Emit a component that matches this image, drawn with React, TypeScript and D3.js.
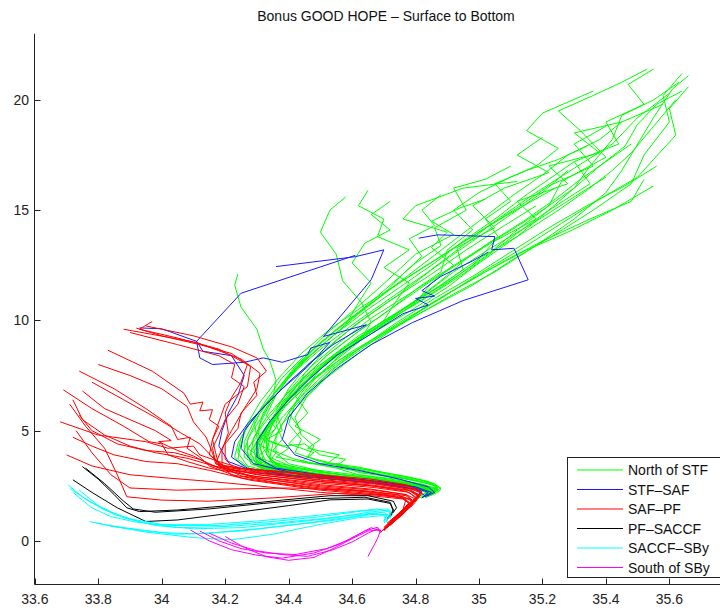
import React from "react";
import * as d3 from "d3";

type P = [number, number];

const chartTitle = "Bonus GOOD HOPE – Surface to Bottom";
const xTicks = [33.6, 33.8, 34, 34.2, 34.4, 34.6, 34.8, 35, 35.2, 35.4, 35.6];
const xTickLabels = ["33.6", "33.8", "34", "34.2", "34.4", "34.6", "34.8", "35", "35.2", "35.4", "35.6"];
const yTicks = [0, 5, 10, 15, 20];
const yTickLabels = ["0", "5", "10", "15", "20"];
const groupNames = ["North of STF", "STF–SAF", "SAF–PF", "PF–SACCF", "SACCF–SBy", "South of SBy"];
const groupColors = ["#00ff00", "#1a1aff", "#ff0000", "#000000", "#00ffff", "#ff00ff"];

// North of STF (salinity, temperature)
const northSTF: P[][] = [
  [[35.66,21.1],[35.61,20.5],[35.55,19.2],[35.50,18.0],[35.45,16.8],[35.40,15.8],[35.30,14.6],[35.18,13.4],[35.05,12.2],[34.92,11.2],[34.80,10.2],[34.68,9.2],[34.56,8.2],[34.46,7.1],[34.38,6.0],[34.33,5.0],[34.31,4.2],[34.33,3.5],[34.42,3.1],[34.58,2.8],[34.72,2.6],[34.81,2.4],[34.85,2.2],[34.82,2.0]],
  [[35.64,21.2],[35.58,20.2],[35.60,19.0],[35.52,17.5],[35.48,16.2],[35.36,15.0],[35.24,13.9],[35.10,12.7],[34.98,11.6],[34.85,10.6],[34.72,9.6],[34.60,8.6],[34.49,7.5],[34.40,6.4],[34.34,5.3],[34.30,4.4],[34.31,3.6],[34.38,3.2],[34.52,2.9],[34.67,2.7],[34.78,2.5],[34.84,2.3],[34.83,2.05],[34.80,1.9]],
  [[35.63,20.8],[35.55,20.0],[35.45,19.3],[35.42,18.2],[35.35,17.0],[35.30,16.0],[35.22,15.0],[35.12,13.8],[35.00,12.6],[34.90,11.5],[34.78,10.4],[34.65,9.3],[34.53,8.2],[34.44,7.0],[34.37,5.9],[34.32,4.9],[34.29,4.0],[34.32,3.4],[34.45,3.0],[34.62,2.75],[34.76,2.55],[34.83,2.35],[34.84,2.1]],
  [[35.55,21.4],[35.47,20.7],[35.52,19.8],[35.40,19.0],[35.44,18.0],[35.30,17.2],[35.35,16.2],[35.20,14.8],[35.06,13.3],[34.95,12.1],[34.82,10.9],[34.70,9.9],[34.58,8.8],[34.47,7.7],[34.39,6.6],[34.33,5.6],[34.29,4.7],[34.28,3.9],[34.33,3.3],[34.50,2.95],[34.66,2.7],[34.79,2.45],[34.84,2.25],[34.81,2.0]],
  [[35.55,16.1],[35.42,15.0],[35.28,14.0],[35.15,13.2],[35.02,12.2],[34.90,11.2],[34.79,10.2],[34.67,9.1],[34.56,8.0],[34.47,6.9],[34.40,5.8],[34.36,4.8],[34.36,4.0],[34.40,3.5],[34.52,3.1],[34.66,2.85],[34.78,2.6],[34.85,2.4],[34.86,2.15],[34.83,1.95]],
  [[35.52,16.4],[35.48,15.4],[35.35,14.6],[35.20,13.6],[35.08,12.7],[34.96,11.7],[34.84,10.7],[34.73,9.6],[34.62,8.5],[34.52,7.4],[34.44,6.3],[34.38,5.3],[34.35,4.4],[34.34,3.7],[34.40,3.25],[34.55,2.95],[34.70,2.7],[34.81,2.5],[34.86,2.3],[34.84,2.05]],
  [[35.58,19.8],[35.45,19.0],[35.30,18.5],[35.38,17.6],[35.22,17.0],[35.28,16.2],[35.12,15.4],[35.18,14.6],[35.05,13.6],[34.98,12.5],[34.87,11.4],[34.75,10.3],[34.63,9.2],[34.52,8.1],[34.43,6.9],[34.36,5.8],[34.31,4.8],[34.28,4.0],[34.30,3.4],[34.40,3.1],[34.56,2.85],[34.72,2.65],[34.82,2.4],[34.85,2.2],[34.83,2.0]],
  [[35.34,17.9],[35.25,17.3],[35.15,16.8],[35.05,16.2],[35.10,15.4],[35.02,14.6],[35.06,13.8],[34.96,12.8],[34.88,11.8],[34.78,10.7],[34.66,9.6],[34.55,8.5],[34.46,7.4],[34.39,6.3],[34.34,5.3],[34.31,4.5],[34.30,3.8],[34.35,3.3],[34.48,3.0],[34.64,2.75],[34.77,2.55],[34.84,2.3],[34.82,2.05]],
  [[35.12,16.3],[34.95,16.0],[34.80,15.2],[34.76,14.6],[34.90,14.0],[34.85,13.3],[34.92,12.5],[34.85,11.7],[34.80,10.8],[34.70,9.8],[34.58,8.8],[34.49,7.7],[34.41,6.6],[34.36,5.6],[34.33,4.7],[34.33,3.9],[34.37,3.4],[34.50,3.0],[34.66,2.78],[34.79,2.52],[34.85,2.3],[34.83,2.05]],
  [[34.58,15.6],[34.53,15.0],[34.50,14.0],[34.55,13.0],[34.57,11.8],[34.63,10.8],[34.66,9.9],[34.62,9.0],[34.54,8.1],[34.46,7.1],[34.39,6.1],[34.34,5.1],[34.31,4.3],[34.32,3.6],[34.40,3.2],[34.55,2.9],[34.70,2.7],[34.81,2.45],[34.85,2.2]],
  [[34.65,15.9],[34.62,15.2],[34.70,14.6],[34.68,13.8],[34.78,13.2],[34.70,12.4],[34.78,11.7],[34.74,10.9],[34.70,10.0],[34.60,9.0],[34.51,8.0],[34.43,6.9],[34.37,5.9],[34.33,5.0],[34.32,4.2],[34.35,3.5],[34.45,3.1],[34.60,2.85],[34.75,2.6],[34.83,2.35],[34.84,2.1]],
  [[34.24,12.1],[34.23,11.6],[34.25,10.6],[34.30,9.6],[34.32,8.7],[34.34,8.2],[34.36,7.3],[34.35,6.4],[34.31,5.5],[34.27,4.6],[34.27,3.8],[34.33,3.3],[34.47,3.0],[34.63,2.8],[34.76,2.6],[34.83,2.4],[34.85,2.2],[34.82,1.95]],
  [[35.20,18.3],[35.12,17.5],[35.22,16.7],[35.08,16.0],[34.98,15.2],[35.05,14.2],[34.93,13.3],[34.95,12.3],[34.85,11.3],[34.74,10.3],[34.62,9.3],[34.52,8.2],[34.43,7.1],[34.37,6.0],[34.32,5.0],[34.29,4.2],[34.30,3.5],[34.38,3.15],[34.53,2.9],[34.69,2.68],[34.80,2.45],[34.84,2.25]],
  [[35.53,21.4],[35.45,20.8],[35.36,20.2],[35.25,19.5],[35.32,18.6],[35.40,17.4],[35.26,16.3],[35.22,15.2],[35.12,14.1],[35.02,12.9],[34.92,11.9],[34.80,10.9],[34.68,9.8],[34.57,8.7],[34.48,7.6],[34.40,6.5],[34.35,5.4],[34.33,4.5],[34.34,3.8],[34.42,3.3],[34.57,3.0],[34.72,2.75],[34.82,2.5],[34.86,2.3],[34.84,2.05]],
  [[35.40,16.5],[35.30,15.6],[35.18,14.5],[35.04,13.3],[34.92,12.2],[34.82,11.1],[34.71,10.0],[34.60,8.9],[34.50,7.8],[34.44,6.7],[34.40,5.8],[34.44,5.0],[34.40,4.4],[34.48,4.0],[34.44,3.6],[34.55,3.3],[34.62,3.0],[34.74,2.8],[34.82,2.55],[34.87,2.35],[34.85,2.1]],
  [[35.48,18.0],[35.40,17.2],[35.32,16.4],[35.24,15.5],[35.14,14.5],[35.02,13.4],[34.90,12.3],[34.78,11.2],[34.66,10.1],[34.56,9.0],[34.47,7.9],[34.40,6.8],[34.35,5.8],[34.30,4.9],[34.27,4.1],[34.28,3.5],[34.36,3.1],[34.52,2.85],[34.68,2.65],[34.79,2.45],[34.85,2.25],[34.83,2.0]],
  [[35.28,16.8],[35.20,15.8],[35.10,14.8],[34.98,13.6],[34.86,12.4],[34.76,11.3],[34.65,10.2],[34.55,9.1],[34.46,8.0],[34.40,6.9],[34.36,5.9],[34.38,5.0],[34.33,4.6],[34.40,4.2],[34.36,3.8],[34.47,3.5],[34.56,3.5],[34.62,3.1],[34.75,2.85],[34.84,2.6],[34.88,2.4],[34.85,2.15]],
  [[35.66,20.6],[35.60,19.6],[35.62,18.4],[35.55,17.3],[35.50,16.5],[35.38,15.5],[35.26,14.4],[35.14,13.3],[35.00,12.1],[34.88,11.0],[34.76,10.0],[34.64,8.9],[34.53,7.8],[34.45,6.7],[34.38,5.6],[34.34,4.7],[34.33,3.9],[34.37,3.35],[34.50,3.0],[34.66,2.75],[34.79,2.5],[34.86,2.3],[34.84,2.05]],
  [[35.36,20.4],[35.28,19.9],[35.20,19.4],[35.15,18.6],[35.25,17.8],[35.18,17.0],[35.10,16.5],[35.00,15.8],[34.92,15.0],[34.98,14.1],[34.90,13.2],[34.88,12.2],[34.80,11.4],[34.72,10.5],[34.62,9.5],[34.52,8.4],[34.44,7.3],[34.38,6.2],[34.33,5.2],[34.30,4.3],[34.30,3.6],[34.36,3.2],[34.50,2.92],[34.66,2.7],[34.79,2.48],[34.85,2.25],[34.83,2.0]],
  [[35.60,20.3],[35.50,19.2],[35.42,18.0],[35.30,16.9],[35.18,15.8],[35.06,14.6],[34.95,13.4],[34.84,12.2],[34.72,11.0],[34.61,9.9],[34.51,8.8],[34.42,7.7],[34.35,6.6],[34.29,5.6],[34.25,4.7],[34.24,4.0],[34.27,3.4],[34.38,3.0],[34.55,2.8],[34.71,2.6],[34.80,2.4],[34.84,2.15]],
  [[35.45,19.0],[35.38,18.2],[35.28,17.5],[35.20,16.6],[35.10,15.6],[35.00,14.5],[34.90,13.4],[34.80,12.3],[34.70,11.2],[34.60,10.1],[34.50,9.0],[34.42,7.9],[34.36,6.8],[34.31,5.8],[34.28,4.9],[34.26,4.1],[34.30,3.5],[34.42,3.15],[34.58,2.92],[34.73,2.7],[34.83,2.5],[34.87,2.3],[34.85,2.05]],
  [[35.62,20.0],[35.55,18.8],[35.48,17.6],[35.42,16.8],[35.34,15.9],[35.24,14.9],[35.12,13.8],[35.00,12.8],[34.89,11.7],[34.77,10.6],[34.66,9.5],[34.56,8.4],[34.48,7.3],[34.42,6.2],[34.40,5.3],[34.44,4.6],[34.42,4.0],[34.50,3.6],[34.60,3.3],[34.70,3.0],[34.80,2.75],[34.86,2.5],[34.87,2.25]],
  [[35.10,17.0],[35.02,16.4],[34.92,16.0],[34.96,15.0],[34.86,14.2],[34.88,13.4],[34.80,12.6],[34.72,11.6],[34.64,10.6],[34.55,9.6],[34.47,8.6],[34.40,7.5],[34.34,6.4],[34.29,5.4],[34.26,4.5],[34.26,3.8],[34.31,3.3],[34.44,3.0],[34.62,2.78],[34.76,2.57],[34.84,2.35],[34.83,2.1]],
  [[34.72,15.4],[34.66,14.8],[34.72,14.1],[34.64,13.5],[34.60,12.6],[34.66,11.7],[34.62,10.8],[34.58,9.8],[34.50,8.8],[34.42,7.8],[34.36,6.8],[34.32,5.8],[34.30,4.9],[34.34,4.3],[34.30,3.8],[34.38,3.4],[34.50,3.1],[34.66,2.85],[34.79,2.62],[34.86,2.4],[34.85,2.15]],
  [[34.88,15.7],[34.82,15.0],[34.86,14.3],[34.78,13.7],[34.82,12.9],[34.76,12.1],[34.70,11.2],[34.62,10.3],[34.54,9.3],[34.46,8.3],[34.39,7.2],[34.34,6.2],[34.31,5.3],[34.30,4.4],[34.36,4.0],[34.34,3.6],[34.44,3.3],[34.58,3.05],[34.72,2.8],[34.82,2.58],[34.87,2.35],[34.85,2.1]],
  [[35.40,18.8],[35.30,18.0],[35.36,17.0],[35.22,16.1],[35.12,15.1],[35.00,14.0],[34.88,12.9],[34.76,11.8],[34.64,10.7],[34.53,9.6],[34.44,8.5],[34.37,7.4],[34.31,6.3],[34.27,5.3],[34.25,4.4],[34.24,3.7],[34.28,3.25],[34.40,2.98],[34.58,2.78],[34.74,2.58],[34.83,2.38],[34.86,2.15]],
  [[35.56,17.0],[35.46,16.1],[35.34,15.2],[35.22,14.2],[35.10,13.1],[34.98,12.0],[34.86,11.0],[34.74,9.9],[34.63,8.8],[34.53,7.7],[34.46,6.6],[34.42,5.6],[34.44,4.8],[34.48,4.3],[34.46,3.8],[34.54,3.5],[34.62,3.35],[34.70,3.1],[34.79,2.85],[34.86,2.6],[34.88,2.35],[34.86,2.1]],
  [[35.30,17.2],[35.22,16.4],[35.14,15.6],[35.06,14.7],[34.96,13.7],[34.86,12.6],[34.75,11.5],[34.64,10.4],[34.54,9.3],[34.45,8.2],[34.38,7.1],[34.32,6.1],[34.27,5.2],[34.24,4.4],[34.23,3.8],[34.26,3.3],[34.36,3.0],[34.52,2.82],[34.69,2.62],[34.80,2.42],[34.85,2.2],[34.82,1.98]],
  [[35.64,20.4],[35.56,19.8],[35.50,18.9],[35.46,17.9],[35.38,17.0],[35.30,16.0],[35.20,15.0],[35.08,13.9],[34.96,12.8],[34.84,11.7],[34.73,10.6],[34.62,9.5],[34.52,8.4],[34.44,7.3],[34.38,6.3],[34.36,5.3],[34.38,4.6],[34.35,4.1],[34.42,3.7],[34.52,3.4],[34.64,3.1],[34.76,2.85],[34.85,2.6],[34.87,2.35],[34.85,2.1]],
  [[35.02,15.5],[34.94,15.1],[34.85,14.5],[34.92,13.9],[34.80,13.0],[34.74,12.2],[34.68,11.4],[34.60,10.4],[34.52,9.4],[34.45,8.4],[34.38,7.4],[34.33,6.4],[34.29,5.5],[34.30,4.7],[34.27,4.2],[34.32,3.7],[34.30,3.4],[34.42,3.1],[34.60,2.85],[34.75,2.63],[34.84,2.42],[34.86,2.18]],
  [[35.18,15.2],[35.08,14.3],[34.96,13.2],[34.84,12.0],[34.72,10.9],[34.61,9.8],[34.52,8.7],[34.45,7.6],[34.42,6.6],[34.46,5.8],[34.42,5.2],[34.50,4.6],[34.46,4.2],[34.56,3.9],[34.52,3.5],[34.62,3.3],[34.72,3.0],[34.82,2.75],[34.87,2.5],[34.86,2.25]],
  [[35.24,16.0],[35.14,15.2],[35.02,14.2],[34.90,13.1],[34.78,12.0],[34.67,10.9],[34.57,9.8],[34.48,8.7],[34.41,7.6],[34.36,6.6],[34.33,5.7],[34.36,5.1],[34.32,4.6],[34.38,4.3],[34.45,4.4],[34.50,3.9],[34.58,3.7],[34.55,3.4],[34.66,3.2],[34.76,2.95],[34.84,2.7],[34.87,2.45],[34.85,2.2]],
];

// STF–SAF
const stfSaf: P[][] = [
  [[34.36,12.44],[34.61,12.89],[34.70,13.2],[34.66,11.84],[34.51,9.27],[34.645,9.8],[34.54,8.9],[34.47,8.1],[34.40,7.2],[34.33,6.2],[34.27,5.3],[34.23,4.5],[34.22,3.8],[34.27,3.3],[34.42,2.95],[34.60,2.72],[34.74,2.5],[34.82,2.25],[34.80,2.0]],
  [[34.61,12.95],[34.25,11.23],[34.11,9.05],[34.12,8.3],[34.16,8.0],[34.26,8.1],[34.32,8.3],[34.38,8.1],[34.46,8.45],[34.47,8.75],[34.53,9.0],[34.46,7.9],[34.38,6.9],[34.31,5.9],[34.26,5.0],[34.25,4.2],[34.29,3.5],[34.44,3.0],[34.64,2.76],[34.78,2.5],[34.84,2.2],[34.82,1.95]],
  [[33.93,9.66],[34.00,9.62],[34.11,9.05],[34.13,8.6],[34.22,8.4],[34.26,7.5],[34.24,6.6],[34.21,5.8],[34.19,5.0],[34.18,4.3],[34.21,3.6],[34.30,3.1],[34.50,2.85],[34.68,2.62],[34.80,2.35],[34.83,2.05]],
  [[34.81,13.73],[34.87,13.88],[35.05,13.8],[35.04,13.2],[35.11,13.27],[35.155,11.84],[34.95,10.9],[34.79,9.9],[34.66,8.9],[34.55,7.8],[34.46,6.7],[34.40,5.6],[34.38,4.6],[34.42,3.9],[34.50,3.5],[34.62,3.2],[34.75,2.8],[34.84,2.45],[34.86,2.2],[34.83,2.0]],
  [[35.03,13.1],[34.98,12.7],[34.88,12.0],[34.82,11.35],[34.86,11.1],[34.80,11.0],[34.84,10.7],[34.76,10.3],[34.65,9.3],[34.55,8.4],[34.47,7.4],[34.40,6.4],[34.34,5.4],[34.30,4.5],[34.30,3.8],[34.36,3.3],[34.52,2.95],[34.68,2.7],[34.80,2.45],[34.85,2.2],[34.82,1.95]],
];

// SAF–PF
const safPf: P[][] = [
  [[33.88,9.6],[34.11,9.0],[34.25,8.25],[34.31,7.6],[34.30,6.9],[34.26,6.0],[34.22,5.0],[34.19,4.2],[34.17,3.5],[34.30,3.15],[34.50,2.85],[34.66,2.65],[34.76,2.4],[34.81,2.1],[34.78,1.6],[34.73,1.0],[34.70,0.5]],
  [[33.92,9.65],[34.00,9.3],[34.12,8.9],[34.22,8.5],[34.28,7.9],[34.27,7.0],[34.20,6.2],[34.18,5.4],[34.16,4.6],[34.15,3.9],[34.20,3.3],[34.32,2.98],[34.50,2.7],[34.66,2.5],[34.77,2.25],[34.80,2.0],[34.78,1.6],[34.74,1.1],[34.71,0.6]],
  [[33.97,9.95],[33.93,9.6],[34.05,9.2],[34.18,8.7],[34.27,8.0],[34.25,7.2],[34.22,6.5],[34.20,5.8],[34.21,4.9],[34.19,4.1],[34.19,3.4],[34.30,3.2],[34.50,2.95],[34.66,2.72],[34.77,2.45],[34.82,2.15],[34.79,1.6],[34.72,0.8],[34.69,0.4]],
  [[33.83,8.65],[33.97,7.7],[34.07,6.7],[34.09,6.2],[34.13,6.3],[34.12,5.9],[34.16,5.95],[34.15,5.5],[34.18,5.2],[34.16,4.6],[34.17,4.0],[34.18,3.4],[34.28,2.95],[34.50,2.55],[34.66,2.35],[34.77,2.1],[34.80,1.9],[34.77,1.4],[34.71,0.7]],
  [[33.80,8.0],[33.90,7.5],[34.00,6.9],[34.08,6.1],[34.10,5.4],[34.14,4.7],[34.16,4.0],[34.17,3.5],[34.25,2.95],[34.50,2.45],[34.66,2.25],[34.77,2.05],[34.79,1.8],[34.77,1.5],[34.72,0.9]],
  [[33.74,7.7],[33.85,6.9],[33.95,6.0],[34.03,5.2],[34.05,4.6],[34.09,4.7],[34.08,4.2],[34.12,3.8],[34.15,3.4],[34.25,2.85],[34.50,2.35],[34.66,2.15],[34.76,1.95],[34.78,1.7],[34.75,1.3],[34.70,0.6]],
  [[33.69,6.85],[33.78,6.0],[33.88,5.2],[33.96,4.5],[34.00,4.4],[34.02,3.9],[34.08,3.6],[34.15,3.3],[34.30,2.92],[34.50,2.62],[34.67,2.42],[34.78,2.2],[34.80,1.95],[34.76,1.2],[34.70,0.5]],
  [[33.72,6.4],[33.75,5.5],[33.82,4.8],[33.90,4.3],[33.98,4.0],[34.08,3.75],[34.14,3.5],[34.22,3.2],[34.35,3.0],[34.50,2.78],[34.67,2.58],[34.78,2.35],[34.81,2.1],[34.79,1.7],[34.73,0.9]],
  [[33.74,5.7],[33.78,5.0],[33.86,4.4],[33.95,4.1],[34.04,4.0],[34.12,3.7],[34.18,3.3],[34.30,2.85],[34.50,2.5],[34.67,2.3],[34.77,2.1],[34.79,1.85],[34.74,1.1],[34.70,0.45]],
  [[33.72,4.7],[33.78,4.3],[33.85,3.9],[33.95,3.6],[34.05,3.5],[34.15,3.2],[34.28,2.75],[34.50,2.3],[34.66,2.1],[34.76,1.95],[34.78,1.75],[34.76,1.4],[34.71,0.8]],
  [[33.71,6.2],[33.76,5.2],[33.82,4.2],[33.86,3.0],[33.89,2.0],[34.00,1.85],[34.15,1.8],[34.35,1.95],[34.55,2.15],[34.70,2.1],[34.77,1.9],[34.76,1.4],[34.70,0.6]],
  [[33.73,5.0],[33.78,4.0],[33.84,3.0],[33.90,2.4],[34.05,2.3],[34.20,2.35],[34.40,2.4],[34.60,2.3],[34.74,2.1],[34.79,1.85],[34.75,1.2],[34.69,0.4]],
  [[33.68,5.4],[33.80,4.8],[33.95,4.5],[34.02,4.2],[34.10,4.3],[34.12,3.9],[34.18,3.6],[34.25,3.3],[34.40,3.1],[34.50,2.9],[34.66,2.7],[34.77,2.5],[34.82,2.2],[34.78,1.5],[34.72,0.7]],
  [[33.75,6.8],[33.82,6.0],[33.90,5.5],[33.98,5.0],[34.03,4.55],[33.99,4.5],[34.05,4.1],[34.10,3.85],[34.16,3.4],[34.30,3.0],[34.50,2.68],[34.67,2.48],[34.78,2.28],[34.81,2.0],[34.77,1.35],[34.71,0.6]],
  [[33.95,9.75],[34.10,9.3],[34.22,8.8],[34.30,8.3],[34.33,7.7],[34.29,7.2],[34.30,6.6],[34.25,5.8],[34.24,5.1],[34.20,4.4],[34.20,3.7],[34.23,3.3],[34.38,3.15],[34.50,3.0],[34.66,2.8],[34.77,2.55],[34.82,2.25],[34.79,1.7],[34.73,1.0],[34.70,0.5]],
  [[33.90,9.45],[34.05,8.9],[34.18,8.4],[34.23,8.0],[34.22,7.4],[34.26,7.0],[34.24,6.2],[34.20,5.5],[34.18,4.8],[34.16,4.2],[34.17,3.6],[34.22,3.0],[34.36,2.65],[34.50,2.4],[34.66,2.2],[34.76,2.0],[34.79,1.8],[34.78,1.6],[34.72,0.85]],
  [[33.70,3.9],[33.78,3.4],[33.90,3.0],[34.02,2.85],[34.15,2.7],[34.30,2.5],[34.50,2.2],[34.66,2.05],[34.76,1.9],[34.78,1.7],[34.74,1.1],[34.70,0.5]],
  [[33.78,7.2],[33.88,6.4],[33.98,5.6],[34.06,4.9],[34.12,4.4],[34.16,3.8],[34.20,3.35],[34.32,3.05],[34.50,2.75],[34.67,2.52],[34.78,2.3],[34.81,2.05],[34.78,1.5],[34.72,0.75]],
];

// PF–SACCF
const pfSaccf: P[][] = [
  [[33.75,3.37],[33.80,2.8],[33.85,2.1],[33.89,1.5],[33.93,1.33],[34.05,1.4],[34.21,1.6],[34.38,1.85],[34.53,2.05],[34.65,2.05],[34.73,1.8],[34.74,1.5],[34.72,1.1]],
  [[33.76,3.3],[33.82,2.6],[33.88,1.8],[33.91,1.45],[33.98,1.3],[34.15,1.45],[34.32,1.7],[34.50,1.92],[34.64,1.98],[34.72,1.75],[34.73,1.4],[34.71,1.0]],
  [[33.72,2.77],[33.78,2.2],[33.86,1.5],[33.95,0.88],[34.05,0.95],[34.22,1.26],[34.40,1.6],[34.53,1.86],[34.65,1.9],[34.72,1.7],[34.73,1.35],[34.71,0.95]],
];

// SACCF–SBy
const saccfSby: P[][] = [
  [[33.705,2.54],[33.75,2.0],[33.82,1.4],[33.90,1.0],[34.00,0.75],[34.15,0.75],[34.30,0.9],[34.45,1.1],[34.58,1.3],[34.68,1.45],[34.72,1.3],[34.71,0.9]],
  [[33.71,2.39],[33.77,1.8],[33.85,1.2],[33.95,0.8],[34.05,0.6],[34.20,0.65],[34.35,0.8],[34.50,1.0],[34.62,1.2],[34.70,1.3],[34.72,1.1],[34.70,0.8]],
  [[33.773,0.875],[33.85,0.65],[33.95,0.45],[34.05,0.3],[34.15,0.35],[34.30,0.55],[34.45,0.8],[34.58,1.05],[34.67,1.25],[34.71,1.15],[34.70,0.85]],
  [[33.794,0.8],[33.88,0.6],[34.00,0.38],[34.10,0.32],[34.25,0.45],[34.40,0.7],[34.55,0.95],[34.66,1.2],[34.71,1.2],[34.70,0.9]],
  [[33.74,2.3],[33.80,1.6],[33.88,1.05],[33.98,0.7],[34.10,0.55],[34.25,0.6],[34.40,0.82],[34.55,1.05],[34.65,1.3],[34.72,1.4],[34.72,1.0]],
  [[33.83,0.7],[33.95,0.4],[34.10,0.15],[34.22,0.05],[34.35,0.3],[34.50,0.75],[34.62,1.05],[34.70,1.15],[34.71,0.85]],
  [[33.72,2.2],[33.78,1.5],[33.84,1.1],[33.92,0.85],[34.02,0.7],[34.18,0.7],[34.35,0.88],[34.50,1.1],[34.63,1.35],[34.71,1.45],[34.73,1.2]],
];

// South of SBy
const southSBy: P[][] = [
  [[34.09,0.5],[34.15,0.0],[34.22,-0.4],[34.30,-0.65],[34.38,-0.78],[34.48,-0.55],[34.56,-0.15],[34.62,0.3],[34.66,0.6],[34.69,0.45]],
  [[34.12,0.45],[34.18,0.0],[34.25,-0.35],[34.33,-0.55],[34.42,-0.62],[34.52,-0.35],[34.59,0.05],[34.64,0.45],[34.68,0.62],[34.69,0.4]],
  [[34.15,0.35],[34.22,-0.1],[34.30,-0.45],[34.38,-0.62],[34.46,-0.7],[34.54,-0.4],[34.60,-0.05],[34.65,0.35],[34.68,0.55],[34.69,0.38]],
  [[34.20,0.2],[34.26,-0.3],[34.33,-0.72],[34.40,-0.88],[34.48,-0.75],[34.54,-0.35],[34.60,0.1],[34.65,0.45],[34.69,0.5],[34.68,0.1],[34.65,-0.71]],
];

const groups: P[][][] = [northSTF, stfSaf, safPf, pfSaccf, saccfSby, southSBy];

const W = 720;
const H = 610;
const font = "'Liberation Sans', Arial, Helvetica, sans-serif";

export default function App() {
  const x = d3.scaleLinear().domain([33.6, 35.8]).range([34.8, 34.8 + 2.2 * 317.3]);
  const y = d3.scaleLinear().domain([-2, 23]).range([585, 585 - 25 * 22.05]);
  const line = d3
    .line<P>()
    .x((d) => x(d[0]))
    .y((d) => y(d[1]));

  const axisX = 34.5;
  const axisY = 584.5;
  const legX = 567.5;
  const legY = 457.5;
  const rowH = 19.5;

  return (
    <svg
      width={W}
      height={H}
      style={{ position: "absolute", left: 0, top: 0, background: "#fff" }}
      fontFamily={font}
    >
      <rect x={0} y={0} width={W} height={H} fill="#fff" />
      <text x={386} y={21} textAnchor="middle" fontSize={14} fill="#111">
        {chartTitle}
      </text>
      <g fill="none" strokeWidth={1} strokeLinejoin="round">
        {groups.map((g, gi) =>
          g.map((ln, li) => (
            <path key={`${gi}-${li}`} d={line(ln) || ""} stroke={groupColors[gi]} />
          ))
        )}
      </g>
      <g stroke="#222" strokeWidth={1}>
        <line x1={axisX} y1={y(23)} x2={axisX} y2={axisY} />
        <line x1={axisX} y1={axisY} x2={W + 20} y2={axisY} />
        {xTicks.map((t, i) => (
          <line key={`xt${i}`} x1={Math.round(x(t)) + 0.5} x2={Math.round(x(t)) + 0.5} y1={axisY} y2={axisY - 6} />
        ))}
        {yTicks.map((t, i) => (
          <line key={`yt${i}`} x1={axisX} x2={axisX + 6} y1={Math.round(y(t)) + 0.5} y2={Math.round(y(t)) + 0.5} />
        ))}
      </g>
      <g fontSize={14} fill="#222">
        {xTicks.map((t, i) => (
          <text key={`xl${i}`} x={x(t)} y={604} textAnchor="middle">
            {xTickLabels[i]}
          </text>
        ))}
        {yTicks.map((t, i) => (
          <text key={`yl${i}`} x={29} y={y(t) + 5} textAnchor="end">
            {yTickLabels[i]}
          </text>
        ))}
      </g>
      <rect x={legX} y={legY} width={170} height={120} fill="#fff" stroke="#222" strokeWidth={1} />
      {groupNames.map((name, i) => (
        <g key={`lg${i}`}>
          <line
            x1={577}
            x2={623}
            y1={legY + 12.5 + i * rowH}
            y2={legY + 12.5 + i * rowH}
            stroke={groupColors[i]}
            strokeWidth={1}
          />
          <text x={628} y={legY + 12.5 + i * rowH + 5} fontSize={14} fill="#111">
            {name}
          </text>
        </g>
      ))}
    </svg>
  );
}
